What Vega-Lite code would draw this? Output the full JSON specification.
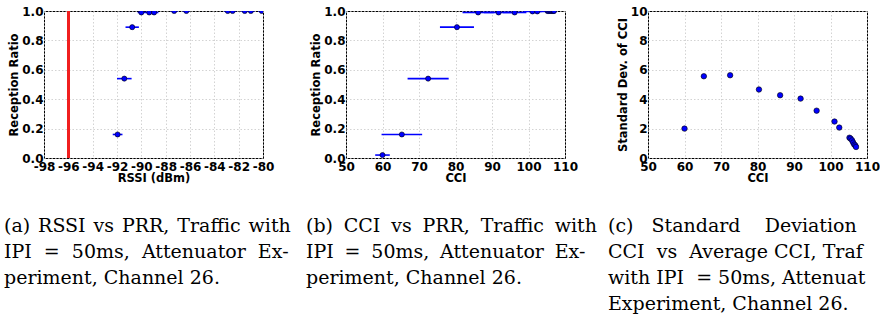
{
  "$schema": "https://vega.github.io/schema/vega-lite/v6.json",
  "background": "white",
  "padding": {"left": 3, "top": 4, "right": 0, "bottom": 0},
  "spacing": 83,
  "bounds": "flush",
  "config": {
    "view": {"stroke": "black", "strokeWidth": 1},
    "axis": {
      "labelFont": "DejaVu Sans", "labelFontWeight": "bold", "labelFontSize": 12, "labelColor": "black",
      "titleFont": "DejaVu Sans", "titleFontWeight": "bold", "titleFontSize": 11.5, "titleColor": "black",
      "domain": false, "ticks": false, "grid": true, "gridColor": "#c8c8c8", "gridDash": [1.5, 2], "gridWidth": 0.8,
      "labelFlush": false, "labelOverlap": false
    },
    "axisX": {"labelPadding": 3, "titlePadding": 0},
    "axisY": {"labelPadding": 1, "titlePadding": 2},
    "title": {
      "font": "DejaVu Serif", "fontSize": 19, "fontWeight": "normal", "color": "black",
      "anchor": "start", "frame": "group", "orient": "bottom", "dx": -40, "lineHeight": 26, "offset": 33
    }
  },
  "datasets": {
    "rssi": [
      {"rssi": -91.95, "sd": 0.4, "prr": 0.16},
      {"rssi": -91.4, "sd": 0.6, "prr": 0.54},
      {"rssi": -90.75, "sd": 0.55, "prr": 0.89},
      {"rssi": -90.0, "sd": 0.3, "prr": 0.99},
      {"rssi": -89.35, "sd": 0.35, "prr": 0.99},
      {"rssi": -88.95, "sd": 0.35, "prr": 0.99},
      {"rssi": -87.3, "sd": 0.3, "prr": 1.0},
      {"rssi": -86.3, "sd": 0.3, "prr": 1.0},
      {"rssi": -82.9, "sd": 0.3, "prr": 1.0},
      {"rssi": -82.5, "sd": 0.3, "prr": 1.0},
      {"rssi": -81.5, "sd": 0.3, "prr": 1.0},
      {"rssi": -81.0, "sd": 0.3, "prr": 1.0},
      {"rssi": -80.1, "sd": 0.3, "prr": 1.0}
    ],
    "cci": [
      {"cci": 60.0, "sd": 2.0, "prr": 0.02},
      {"cci": 65.3, "sd": 5.56, "prr": 0.16},
      {"cci": 72.5, "sd": 5.63, "prr": 0.54},
      {"cci": 80.4, "sd": 4.66, "prr": 0.89},
      {"cci": 86.2, "sd": 4.27, "prr": 0.99},
      {"cci": 91.8, "sd": 4.04, "prr": 0.99},
      {"cci": 96.2, "sd": 3.22, "prr": 0.99},
      {"cci": 101.1, "sd": 2.48, "prr": 0.997},
      {"cci": 102.4, "sd": 2.07, "prr": 0.997},
      {"cci": 105.2, "sd": 1.38, "prr": 1.0},
      {"cci": 105.5, "sd": 1.32, "prr": 1.0},
      {"cci": 105.9, "sd": 1.2, "prr": 1.0},
      {"cci": 106.2, "sd": 1.05, "prr": 1.0},
      {"cci": 106.5, "sd": 0.92, "prr": 1.0},
      {"cci": 106.8, "sd": 0.85, "prr": 1.0},
      {"cci": 107.0, "sd": 0.75, "prr": 1.0}
    ]
  },
  "hconcat": [
    {
      "width": 219, "height": 147,
      "title": {"text": [
        "(a) \u200aRSSI \u200avs \u200aPRR, \u200aTraffic \u200awith",
        "IPI \u00a0= \u00a050ms, \u00a0Attenuator \u00a0Ex-",
        "periment, Channel 26."
      ]},
      "data": {"name": "rssi"},
      "encoding": {
        "x": {"field": "rssi", "type": "quantitative",
          "scale": {"domain": [-98, -80], "nice": false, "zero": false},
          "axis": {"title": "RSSI (dBm)", "values": [-98, -96, -94, -92, -90, -88, -86, -84, -82, -80], "labelExpr": "'' + datum.value"}},
        "y": {"field": "prr", "type": "quantitative",
          "scale": {"domain": [0, 1], "nice": false},
          "axis": {"title": "Reception Ratio", "values": [0, 0.2, 0.4, 0.6, 0.8, 1.0], "format": ".1f"}}
      },
      "layer": [
        {"mark": {"type": "rule", "color": "#f02020", "strokeWidth": 2.2}, "encoding": {"x": {"datum": -96}, "y": {"value": 0}, "y2": {"value": 147}}},
        {"mark": {"type": "errorbar", "ticks": false, "thickness": 1.6, "color": "blue", "clip": true}, "encoding": {"xError": {"field": "sd"}}},
        {"mark": {"type": "point", "filled": true, "color": "blue", "stroke": "black", "strokeWidth": 0.6, "size": 26, "opacity": 1, "clip": true}}
      ]
    },
    {
      "width": 219, "height": 147,
      "title": {"text": [
        "(b) \u2005CCI \u2005vs \u2005PRR, \u2005Traffic \u2005with",
        "IPI \u2005= \u200550ms, \u2005Attenuator \u2005Ex-",
        "periment, Channel 26."
      ]},
      "data": {"name": "cci"},
      "encoding": {
        "x": {"field": "cci", "type": "quantitative",
          "scale": {"domain": [50, 110], "nice": false, "zero": false},
          "axis": {"title": "CCI", "values": [50, 60, 70, 80, 90, 100, 110]}},
        "y": {"field": "prr", "type": "quantitative",
          "scale": {"domain": [0, 1], "nice": false},
          "axis": {"title": "Reception Ratio", "values": [0, 0.2, 0.4, 0.6, 0.8, 1.0], "format": ".1f"}}
      },
      "layer": [
        {"mark": {"type": "errorbar", "ticks": false, "thickness": 1.6, "color": "blue", "clip": true}, "encoding": {"xError": {"field": "sd"}}},
        {"mark": {"type": "point", "filled": true, "color": "blue", "stroke": "black", "strokeWidth": 0.6, "size": 26, "opacity": 1, "clip": true}}
      ]
    },
    {
      "width": 219, "height": 147,
      "title": {"text": [
        "(c)\u00a0\u00a0\u00a0Standard\u00a0\u00a0\u00a0\u00a0Deviation",
        "CCI\u00a0\u00a0vs\u00a0\u00a0Average\u00a0CCI,\u00a0Traf",
        "with IPI \u00a0= 50ms, Attenuat",
        "Experiment, Channel 26."
      ]},
      "data": {"name": "cci"},
      "mark": {"type": "point", "filled": true, "color": "blue", "stroke": "black", "strokeWidth": 0.6, "size": 30, "opacity": 1, "clip": true},
      "encoding": {
        "x": {"field": "cci", "type": "quantitative",
          "scale": {"domain": [50, 110], "nice": false, "zero": false},
          "axis": {"title": "CCI", "values": [50, 60, 70, 80, 90, 100, 110]}},
        "y": {"field": "sd", "type": "quantitative",
          "scale": {"domain": [0, 10], "nice": false},
          "axis": {"title": "Standard Dev. of CCI", "values": [0, 2, 4, 6, 8, 10]}}
      }
    }
  ]
}
